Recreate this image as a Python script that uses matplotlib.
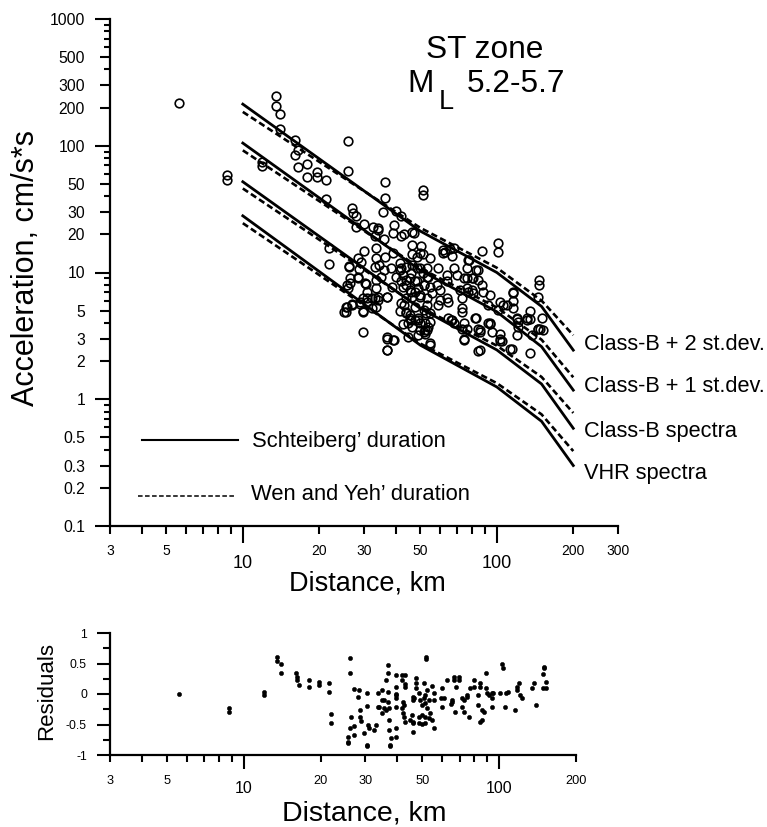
import matplotlib
matplotlib.use('Agg')
import matplotlib.pyplot as plt
from matplotlib.ticker import FixedLocator, FixedFormatter, NullFormatter

plt.rcParams['font.family'] = ['Liberation Sans', 'DejaVu Sans']

# ---------------- data ----------------
curve_dist = [10, 50, 100, 150, 200]
curve_names = ['Class-B + 2 st.dev.', 'Class-B + 1 st.dev.', 'Class-B spectra', 'VHR spectra']
solid_p2 = [213, 21.2, 10.0, 5.4, 2.44]
dashed_p2 = [185, 22.5, 10.9, 6.0, 3.2]
solid_p1 = [105, 10.4, 4.9, 2.6, 1.18]
dashed_p1 = [92, 10.8, 5.3, 2.95, 1.49]
solid_b = [52, 5.2, 2.45, 1.32, 0.59]
dashed_b = [46, 5.3, 2.65, 1.5, 0.78]
solid_vhr = [28, 2.67, 1.25, 0.67, 0.30]
dashed_vhr = [24.5, 2.75, 1.34, 0.76, 0.39]

obs_dist = [5.6, 8.7, 8.7, 11.9, 11.9, 13.5, 13.5, 14.0, 14.0, 16.0, 16.5, 16.0, 16.5, 17.9, 19.6, 19.6,
            17.9, 21.3, 21.3, 26, 26, 26.9, 27.2, 28, 28, 30, 32.5, 34, 21.9, 21.9, 26.2, 26.2, 28.3, 28.6,
            28.3, 30.5, 30, 25.7, 26.4, 33.5, 33.5, 33, 33.5,
            25.4, 25.4, 26.9, 28.9, 29.7, 30.8, 33.1, 33.5, 34, 29.7, 37, 39.4, 37, 36.8, 26,
            36.3, 51, 51, 36.3, 35.5, 40, 42, 34, 33, 39.5, 39, 41.8, 36, 47, 29.3, 34.4, 39, 36.3, 46.5,
            50.5, 50, 48.5, 54.6, 58.7, 46.5, 41.6, 42.6, 45.5, 47.5, 53, 50, 53.5, 51.5, 55.4, 58, 59.7,
            62.5, 65.4, 67.6, 66.4, 76, 76.7, 68, 63.5, 63.5, 69.5, 74.6, 80.6, 87.6, 84.2, 87.6, 76, 79.8,
            80.6, 88.5, 94, 92, 101, 101, 103, 106, 116, 110, 116, 135, 135, 147, 147, 145, 150, 145, 152,
            120, 121, 120, 103, 115, 135, 94, 96, 86, 84, 86, 73, 74.6, 76, 74.6, 66.4, 68, 63.5, 64, 59.7,
            58.7, 53, 52.5, 54.6, 53, 51.5, 49, 47.5, 45.5, 44, 44.8, 42.6, 41.6, 42, 44, 46.5, 50, 38.6,
            40, 37, 34, 32.3, 29.7, 30.8, 32.3, 29.7, 28.9, 26.9, 25.7, 25, 30.3, 30.8, 26.4, 28.3, 36.8,
            39, 36.8, 44.8, 54.6, 33.5, 35, 36, 38.3, 41.6, 42, 44, 45.5, 47.5, 49,
            46.5, 43, 46.5, 51, 61.5, 61.5, 78, 83, 76, 80, 84, 77, 71.6, 73, 73, 82, 83, 84, 86, 92, 94,
            101, 103, 103, 113, 116, 116, 120, 121, 132, 132, 145, 148, 137,
            42, 44, 46, 48.5, 51, 53, 44, 48.5, 51.5, 54.6, 42.6, 46, 50, 53, 43, 47.5, 51.5, 54.6, 45.5,
            49, 52, 50, 53.5, 46.5, 49, 52,
            44, 46, 50, 52, 54.6, 64, 66, 73, 74.6, 105]
obs_acc = [217, 59, 54, 74, 69, 247, 206, 178, 136, 111, 92, 84, 68, 72, 62, 57,
           57, 54, 38, 109, 63, 32, 29.5, 28, 23, 24, 23, 21.6, 15.6, 11.7, 11.3, 11, 13, 10.6,
           9.2, 8.1, 14.7, 7.9, 8.2, 15.6, 13, 11, 8.7,
           5.3, 4.9, 5.6, 5.6, 5.0, 6.3, 6.3, 5.3, 6.4, 3.4, 3.1, 2.95, 2.44, 6.4, 7.5,
           52, 44.7, 41, 38.5, 30, 30.5, 28, 22.5, 19.5, 23.5, 20.5, 19.5, 18.3, 20.5, 12, 11.5, 14.3, 13.3, 16.4,
           16.2, 14.3, 13.2, 13, 10.9, 11.5, 10.4, 9.6, 9.1, 8.5, 10.9, 10.9, 9.2, 8.0, 6.9, 8.0, 7.3,
           14.5, 15.3, 15.6, 13.4, 10.9, 12.5, 10.9, 9.6, 8.5, 9.6, 9.1, 9.1, 14.7, 10.4, 8.0, 7.6, 7.3,
           6.9, 7.0, 6.6, 5.5, 17.0, 14.6, 5.8, 5.5, 6.9, 5.5, 5.2, 5.0, 4.3, 8.7, 8.0, 6.4, 4.4, 3.6, 3.5,
           4.3, 3.7, 3.2, 3.3, 2.5, 2.3, 4.0, 3.4, 3.5, 2.4, 2.44, 4.9, 4.0, 3.6, 2.95, 4.2, 4.0, 6.3, 5.8, 6.05,
           5.5, 5.5, 4.8, 4.1, 3.5, 3.4, 4.4, 4.2, 4.6, 4.9, 4.0, 3.9, 5.0, 5.7, 6.3, 6.4, 6.4, 7.7,
           9.2, 6.4, 6.05, 6.3, 6.3, 5.8, 5.2, 4.9, 5.8, 5.5, 5.3, 4.9, 8.2, 7.0, 9.0, 9.0, 3.0,
           2.95, 2.44, 3.1, 2.7, 7.5, 9.2, 10.4, 10.9, 11.9, 8.5, 8.0, 7.3, 7.0, 7.6,
           21, 20, 14, 14.1, 15, 14.3, 12.5, 10.4, 9.1, 9.0, 8.7, 7.0, 7.3, 6.3, 5.2, 4.4, 4.4, 3.6, 3.4, 4.0, 3.9,
           5.05, 3.0, 2.9, 2.5, 7.0, 6.0, 4.4, 4.1, 4.4, 4.2, 3.6, 3.6, 3.2,
           10.9, 11, 10, 10.9, 9.9, 9.2, 8.7, 8.5, 8.0, 7.7, 7.7, 7.0, 6.7, 6.3, 5.5, 5.3, 5.05, 4.8, 4.4,
           4.2, 4.0, 3.5, 3.7, 3.7, 3.2, 3.3,
           4.8, 4.2, 4.0, 3.5, 2.8, 4.4, 4.2, 3.6, 3.0, 2.9]

res_dist = [5.6, 8.8, 8.8, 12, 12, 13.5, 13.5, 14, 14, 16, 16.2, 16.2, 16.5, 18, 18, 19.7, 19.7, 21.5, 21.5,
            22, 22, 26, 26.2, 27, 28.3, 28, 26.4, 27, 26, 25.7, 25.7, 25.7, 27, 28.6, 28.6, 28.9, 29.7,
            30.3, 30.3, 30.5, 30.5, 30.8, 31, 33.5, 34.7, 33, 32.5, 34, 34.7, 35.5, 36, 36.8, 36.8, 36.8,
            36.8, 37, 37, 37.9, 37.5, 37.5, 37, 39.5, 39.5, 39.5,
            34.7, 33.5, 35.5, 36, 39.5, 39.5, 41.6, 41.6, 43, 39.5, 39.5, 39.5, 42, 42.6, 41.6, 42, 42.6, 43,
            45, 43, 43, 46, 46, 46, 45.5, 46, 46, 46.5, 47.5, 47.5, 47.5, 48.5, 49, 50, 51, 51.5, 51.5, 52,
            52, 53, 48.5, 50, 51.5, 53, 53.5, 48.5, 50, 51.5, 54.6, 55.4, 51.8, 51.8, 51, 54.6, 55.4, 55.4,
            59.7, 59, 61, 59.7, 62.5, 65.4, 65.4, 65, 66.4, 66.4, 67, 69.5, 69.5, 68, 71.6, 73, 71.6, 73,
            76, 74.6, 74.6, 76.7, 80, 80, 83, 84, 84.5, 83, 86, 87, 84, 86, 88.5, 88.5, 90, 91, 94, 95, 94,
            94, 101, 106, 108, 103, 104, 105, 115, 118, 118, 120, 121, 123, 137, 135, 139, 150, 150, 148,
            152, 148, 152]
res_val = [0.0, -0.23, -0.30, 0.03, -0.02, 0.61, 0.54, 0.49, 0.34, 0.34, 0.28, 0.23, 0.15, 0.23, 0.12, 0.2,
           0.15, 0.18, 0.03, -0.33, -0.48, 0.59, 0.34, 0.08, 0.07, -0.05, -0.38, -0.52, -0.56, -0.7,
           -0.78, -0.8, -0.67, -0.26, -0.38, -0.44, -0.64, -0.84, -0.86, 0.02, -0.2, -0.51, -0.56, 0.02,
           0.07, -0.51, -0.59, -0.21, -0.31, -0.1, 0.23, 0.48, 0.34, 0.03, -0.13, -0.43, -0.59, -0.72,
           -0.83, -0.85, -0.23, 0.31, 0.0, -0.21,
           -0.1, -0.21, -0.23, -0.26, -0.7, -0.56, 0.31, 0.23, 0.31, 0.11, -0.02, -0.07, -0.13, -0.18,
           -0.23, -0.31, -0.38, -0.46, -0.43, 0.11, 0.16, -0.62, -0.46, -0.47, -0.34, -0.05, -0.1, -0.07,
           0.26, 0.18, 0.1, 0.02, -0.1, -0.18, -0.07, -0.02, -0.15, 0.07, -0.23, -0.1, -0.38, -0.34,
           -0.38, -0.39, -0.31, -0.48, -0.49, -0.48, -0.43, -0.56, 0.61, 0.57, 0.18, 0.13, 0.02, -0.1,
           0.1, -0.07, -0.07, -0.21, 0.23, -0.1, -0.13, -0.16, 0.28, 0.23, -0.3, 0.28, 0.23, 0.11, -0.07,
           -0.1, -0.21, -0.3, -0.38, -0.02, -0.05, 0.1, 0.11, 0.23, -0.02, 0.11, 0.18, -0.18, -0.26,
           -0.3, -0.46, -0.43, 0.34, 0.1, 0.02, -0.02, 0.02, 0.02, -0.07, -0.21, 0.02, 0.02, 0.03, 0.49,
           0.43, -0.21, -0.26, 0.11, 0.07, 0.18, -0.02, -0.07, 0.18, 0.1, -0.18, 0.44, 0.43, 0.33, 0.2,
           0.1, 0.1]

# tick values / labels
x_major = [10, 100]
x_major_labels = ['10', '100']
x_minor_main = [3, 4, 5, 6, 7, 8, 9, 20, 30, 40, 50, 60, 70, 80, 90, 200, 300]
x_minor_main_labels = ['3', '', '5', '', '', '', '', '20', '30', '', '50', '', '', '', '', '200', '300']
x_minor_res = [3, 4, 5, 6, 7, 8, 9, 20, 30, 40, 50, 60, 70, 80, 90, 200]
x_minor_res_labels = ['3', '', '5', '', '', '', '', '20', '30', '', '50', '', '', '', '', '200']
y_major = [0.1, 0.2, 0.3, 0.5, 1, 2, 3, 5, 10, 20, 30, 50, 100, 200, 300, 500, 1000]
y_major_labels = ['0.1', '0.2', '0.3', '0.5', '1', '2', '3', '5', '10', '20', '30', '50',
                  '100', '200', '300', '500', '1000']
y_decades = [0.1, 1, 10, 100, 1000]
y_minor = [0.4, 0.6, 0.7, 0.8, 0.9, 4, 6, 7, 8, 9, 40, 60, 70, 80, 90, 400, 600, 700, 800, 900]
r_major = [-1, -0.5, 0, 0.5, 1]
r_major_labels = ['-1', '-0.5', '0', '0.5', '1']
r_minor = [-0.75, -0.25, 0.25, 0.75]

# ---------------- figure ----------------
W, H = 767, 827
fig = plt.figure(figsize=(W / 100, H / 100), dpi=100)


def fxp(px):
    return px / W


def fyp(py):
    return 1 - py / H


PT = 0.72  # points per pixel

ax = fig.add_axes([fxp(110), fyp(526), 508 / W, 507 / H])
ax.set_xscale('log')
ax.set_yscale('log')
ax.set_xlim(3, 300)
ax.set_ylim(0.1, 1000)

ax.plot(obs_dist, obs_acc, linestyle='none', marker='o', markersize=6.2,
        markerfacecolor='none', markeredgecolor='black', markeredgewidth=1.2, zorder=2)

dash = (0, (2.4, 1.3))
for s, d in [(solid_p2, dashed_p2), (solid_p1, dashed_p1), (solid_b, dashed_b), (solid_vhr, dashed_vhr)]:
    ax.plot(curve_dist, s, color='black', lw=2.0, solid_joinstyle='miter', zorder=3)
    ax.plot(curve_dist, d, color='black', lw=1.9, linestyle=dash, zorder=3)

for sp in ['top', 'right']:
    ax.spines[sp].set_visible(False)
for sp in ['left', 'bottom']:
    ax.spines[sp].set_linewidth(1.6)

ax.xaxis.set_major_locator(FixedLocator(x_major))
ax.xaxis.set_major_formatter(FixedFormatter(x_major_labels))
ax.xaxis.set_minor_locator(FixedLocator(x_minor_main))
ax.xaxis.set_minor_formatter(FixedFormatter(x_minor_main_labels))
ax.yaxis.set_major_locator(FixedLocator(y_major))
ax.yaxis.set_major_formatter(FixedFormatter(y_major_labels))
ax.yaxis.set_minor_locator(FixedLocator(y_minor))
ax.yaxis.set_minor_formatter(NullFormatter())

ax.tick_params(axis='x', which='major', direction='out', length=17 * PT, width=1.5, pad=12 * PT, labelsize=13)
ax.tick_params(axis='x', which='minor', direction='out', length=8 * PT, width=1.5, pad=10 * PT, labelsize=10)
ax.tick_params(axis='y', which='major', direction='out', length=10 * PT, width=1.5, pad=15 * PT, labelsize=11.3)
ax.tick_params(axis='y', which='minor', direction='out', length=6 * PT, width=1.5)
for t, v in zip(ax.yaxis.get_major_ticks(), y_major):
    if v in y_decades:
        t.tick1line.set_markersize(15 * PT)

# legend (drawn manually like the original)
ax.plot([0.063, 0.252], [0.170, 0.170], transform=ax.transAxes, color='black', lw=1.5, clip_on=False)
ax.plot([0.055, 0.246], [0.059, 0.059], transform=ax.transAxes, color='black', lw=1.1,
        linestyle=(0, (3, 1.6)), clip_on=False)
fig.text(fxp(252), fyp(442), 'Schteiberg\u2019 duration', fontsize=15.8, ha='left', va='center')
fig.text(fxp(251), fyp(495), 'Wen and Yeh\u2019 duration', fontsize=15.8, ha='left', va='center')

# curve labels
for name, ypix in zip(curve_names, [345, 386, 431, 474]):
    fig.text(fxp(584), fyp(ypix), name, fontsize=15.7, ha='left', va='center')

# title text
fig.text(fxp(485), fyp(58), 'ST zone', fontsize=22.8, ha='center', va='baseline')
fig.text(fxp(407), fyp(92), 'M', fontsize=22.8, ha='left', va='baseline')
fig.text(fxp(439), fyp(109), 'L', fontsize=19.5, ha='left', va='baseline')
fig.text(fxp(467), fyp(92), '5.2-5.7', fontsize=22.8, ha='left', va='baseline')

fig.text(fxp(26), fyp(268), 'Acceleration, cm/s*s', fontsize=22, rotation=90, ha='center', va='center')
fig.text(fxp(367), fyp(583), 'Distance, km', fontsize=19.5, ha='center', va='center')

# ---------------- residuals ----------------
ax2 = fig.add_axes([fxp(110), fyp(755), 466 / W, 122 / H])
ax2.set_xscale('log')
ax2.set_xlim(3, 200)
ax2.set_ylim(-1, 1)
ax2.plot(res_dist, res_val, linestyle='none', marker='o', markersize=3.0,
         markerfacecolor='black', markeredgecolor='black', markeredgewidth=0.4)
for sp in ['top', 'right']:
    ax2.spines[sp].set_visible(False)
for sp in ['left', 'bottom']:
    ax2.spines[sp].set_linewidth(1.6)

ax2.xaxis.set_major_locator(FixedLocator(x_major))
ax2.xaxis.set_major_formatter(FixedFormatter(x_major_labels))
ax2.xaxis.set_minor_locator(FixedLocator(x_minor_res))
ax2.xaxis.set_minor_formatter(FixedFormatter(x_minor_res_labels))
ax2.yaxis.set_major_locator(FixedLocator(r_major))
ax2.yaxis.set_major_formatter(FixedFormatter(r_major_labels))
ax2.yaxis.set_minor_locator(FixedLocator(r_minor))
ax2.yaxis.set_minor_formatter(NullFormatter())

ax2.tick_params(axis='x', which='major', direction='out', length=14 * PT, width=1.5, pad=12 * PT, labelsize=11.5)
ax2.tick_params(axis='x', which='minor', direction='out', length=7 * PT, width=1.5, pad=13 * PT, labelsize=9.2)
ax2.tick_params(axis='y', which='major', direction='out', length=13 * PT, width=1.5, pad=10 * PT, labelsize=8.8)
ax2.tick_params(axis='y', which='minor', direction='out', length=7 * PT, width=1.5)

fig.text(fxp(47), fyp(691), 'Residuals', fontsize=16, rotation=90, ha='center', va='center')
fig.text(fxp(364), fyp(813), 'Distance, km', fontsize=20.5, ha='center', va='center')

fig.savefig('out.png', dpi=100, facecolor='white')
